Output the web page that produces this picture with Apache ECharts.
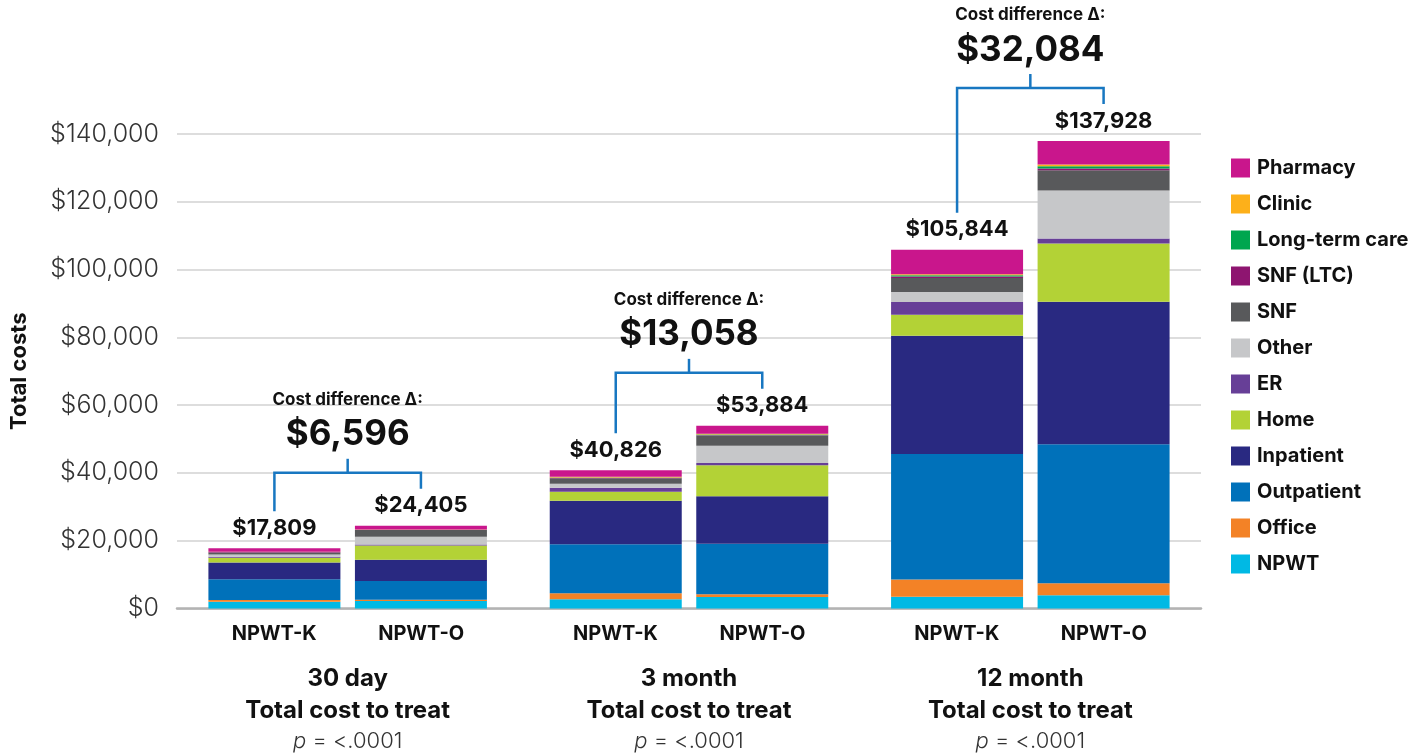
<!DOCTYPE html>
<html>
<head>
<meta charset="utf-8">
<title>Total cost to treat</title>
<script src="https://cdn.jsdelivr.net/npm/echarts@6/dist/echarts.min.js"></script>
<style>
  html, body { margin: 0; padding: 0; background: #fff; }
  #chart { width: 1425px; height: 754px; }
</style>
</head>
<body>
<div id="chart"></div>
<script>
// x axis: three periods, two bars (NPWT-K / NPWT-O) in each
const periods = ["30 day", "3 month", "12 month"];
const arms = ["NPWT-K", "NPWT-O"];
const yTicks = [0, 20000, 40000, 60000, 80000, 100000, 120000, 140000];

// cost per component, bar order: [30d K, 30d O, 3m K, 3m O, 12m K, 12m O]
const npwt       = [2000, 2200, 2750, 3400, 3440, 3930];
const office     = [500, 400, 1770, 800, 5110, 3540];
const outpatient = [6100, 5500, 14450, 14900, 37000, 41000];
const inpatient  = [5000, 6255, 12800, 14000, 34894, 42000];
const home       = [1400, 4200, 2650, 9200, 6190, 17200];
const er         = [300, 300, 1180, 600, 3830, 1470];
const other      = [600, 2300, 1180, 5100, 2950, 14160];
const snf        = [650, 2000, 1670, 3000, 4130, 6000];
const snfLtc     = [100, 50, 150, 150, 400, 500];
const ltc        = [50, 50, 50, 200, 400, 700];
const clinic     = [59, 50, 200, 200, 300, 500];
const pharmacy   = [1050, 1100, 1976, 2334, 7200, 6928];

// stacked bottom -> top
const parts = [
    { name: "NPWT", data: npwt, color: "#00b9e4" },
    { name: "Office", data: office, color: "#f38226" },
    { name: "Outpatient", data: outpatient, color: "#0071ba" },
    { name: "Inpatient", data: inpatient, color: "#292981" },
    { name: "Home", data: home, color: "#b3d236" },
    { name: "ER", data: er, color: "#673f97" },
    { name: "Other", data: other, color: "#c6c7c9" },
    { name: "SNF", data: snf, color: "#58595b" },
    { name: "SNF (LTC)", data: snfLtc, color: "#8e1570" },
    { name: "Long-term care", data: ltc, color: "#00a64f" },
    { name: "Clinic", data: clinic, color: "#fdb01a" },
    { name: "Pharmacy", data: pharmacy, color: "#c9168c" },
];

const totals = npwt.map((v, i) => parts.reduce((s, p) => s + p.data[i], 0));
const money = (v) => "$" + v.toLocaleString("en-US");

const FONT = "Inter, 'Noto Sans', sans-serif";
const BAR_W = 132;
const GAP = "11%";
const BLUE = "#1877c1";

const chart = echarts.init(document.getElementById("chart"));

let series = [];
parts.forEach((p, pi) => {
    arms.forEach((arm, a) => {
        let s = {
            name: p.name,
            type: "bar",
            stack: arm,
            barWidth: BAR_W,
            barGap: GAP,
            itemStyle: { color: p.color },
            emphasis: { disabled: true },
            data: periods.map((_, i) => p.data[i * 2 + a]),
        };
        // total on top of each stack
        if (pi == parts.length - 1) {
            s.label = {
                show: true,
                position: "top",
                distance: 9,
                color: "#111",
                fontFamily: FONT,
                fontWeight: "bold",
                fontSize: 22,
                formatter: (prm) => money(totals[prm.dataIndex * 2 + a]),
            };
        }
        series.push(s);
    });
});

let option = {
    animation: false,
    backgroundColor: "#fff",
    grid: {
        left: 177,
        right: 224,
        top: 134,
        bottom: 145.5,
        containLabel: false,
        outerBoundsMode: "none",
    },
    legend: {
        orient: "vertical",
        left: 1226,
        top: 153,
        itemWidth: 19,
        itemHeight: 19,
        itemGap: 16,
        icon: "rect",
        selectedMode: false,
        data: parts.map((p) => p.name).reverse(),
        textStyle: {
            color: "#111",
            fontFamily: FONT,
            fontWeight: "bold",
            fontSize: 20,
            padding: [0, 0, 0, 2],
        },
    },
    xAxis: [{
            type: "category",
            data: periods,
            axisTick: { show: false },
            axisLine: { lineStyle: { color: "#b3b3b3", width: 2.5 } },
            axisLabel: {
                margin: 14,
                formatter: () => "{k|" + arms[0] + "}{o|" + arms[1] + "}",
                rich: {
                    k: { width: 147, align: "center", fontFamily: FONT, fontWeight: "bold", fontSize: 20, color: "#111", lineHeight: 22 },
                    o: { width: 147, align: "center", fontFamily: FONT, fontWeight: "bold", fontSize: 20, color: "#111", lineHeight: 22 },
                },
            },
        },
        {
            type: "category",
            data: periods,
            position: "bottom",
            axisTick: { show: false },
            axisLine: { show: false },
            axisLabel: {
                margin: 54,
                formatter: (v) => "{g|" + v + "}\n{g|Total cost to treat}\n{i|p}{n| = <.0001}",
                rich: {
                    g: { fontFamily: FONT, fontWeight: "bold", fontSize: 24, color: "#111", lineHeight: 32 },
                    i: { fontFamily: FONT, fontStyle: "italic", fontWeight: 300, fontSize: 22, color: "#333", lineHeight: 30 },
                    n: { fontFamily: FONT, fontWeight: 300, fontSize: 22, color: "#333", lineHeight: 30 },
                },
            },
        },
    ],
    yAxis: {
        type: "value",
        min: yTicks[0],
        max: yTicks[yTicks.length - 1],
        interval: yTicks[1] - yTicks[0],
        name: "Total costs",
        nameLocation: "middle",
        nameRotate: 90,
        nameGap: 147,
        nameTextStyle: { fontFamily: FONT, fontWeight: "bold", fontSize: 22, color: "#111" },
        axisLine: { show: false },
        axisTick: { show: false },
        axisLabel: {
            margin: 18,
            fontFamily: FONT,
            fontWeight: 300,
            fontSize: 25,
            color: "#333",
            formatter: (v) => money(v),
        },
        splitLine: { lineStyle: { color: "#d2d2d2", width: 1.5 } },
    },
    series: series,
};
chart.setOption(option);

// cost-difference brackets, placed from the axes' own scales
const pos = (i, v) => chart.convertToPixel({ xAxisIndex: 0, yAxisIndex: 0 }, [i, v]);
const half = (BAR_W + BAR_W * 0.11) / 2;
let graphics = [];
periods.forEach((p, i) => {
    const cx = pos(i, 0)[0];
    const yK = pos(i, totals[i * 2])[1];
    const yO = pos(i, totals[i * 2 + 1])[1];
    const xK = cx - half;
    const xO = cx + half;
    const hy = Math.min(yK, yO) - 53;
    const lineStyle = { stroke: BLUE, lineWidth: 2.5, fill: null };
    graphics.push({
        type: "polyline",
        shape: { points: [[xK, yK - 37], [xK, hy], [xO, hy], [xO, yO - 37]] },
        style: lineStyle,
    });
    graphics.push({
        type: "line",
        shape: { x1: cx, y1: hy, x2: cx, y2: hy - 14 },
        style: lineStyle,
    });
    graphics.push({
        type: "text",
        x: cx,
        y: hy - 38,
        style: {
            text: money(totals[i * 2 + 1] - totals[i * 2]),
            fill: "#111",
            font: "bold 35px " + FONT,
            align: "center",
            verticalAlign: "middle",
        },
    });
    graphics.push({
        type: "text",
        x: cx,
        y: hy - 73,
        style: {
            text: "Cost difference Δ:",
            fill: "#111",
            font: "bold 17px " + FONT,
            align: "center",
            verticalAlign: "middle",
        },
    });
});
chart.setOption({ graphic: graphics });
</script>
</body>
</html>
